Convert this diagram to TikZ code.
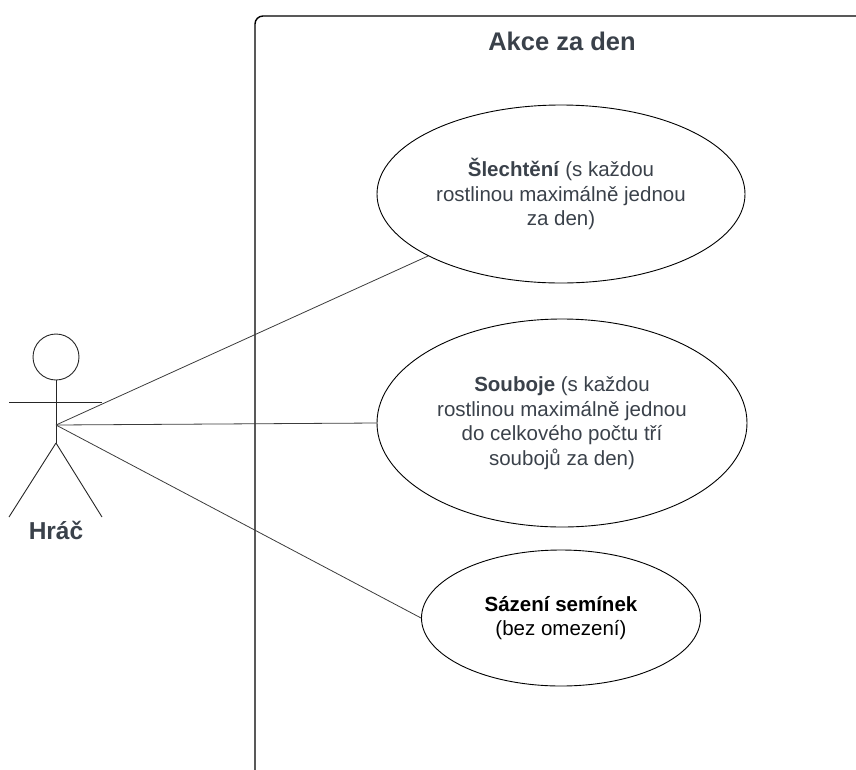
\documentclass[tikz,border=0pt]{standalone}
\usepackage{fontspec}
\setmainfont{Liberation Sans}
\usepackage{tikz}
\usetikzlibrary{positioning,shapes.geometric}
\definecolor{txtgray}{HTML}{3A414A}
\definecolor{linegray}{HTML}{3C3C3C}

\begin{document}
\begin{tikzpicture}[x=1pt, y=-1pt, auto,
    usecase/.style={ellipse, draw, line width=0.9pt, inner sep=0pt, align=center,
        text=txtgray, font=\fontsize{20.5}{24.5}\selectfont},
    stick/.style={line width=0.9pt, draw=black!85}]
    \useasboundingbox (0,0) rectangle (856,769);

    % system boundary
    \draw[line width=1.4pt, rounded corners=8pt] (862,16) -- (255,16) -- (255,775);
    \node[text=txtgray, font=\fontsize{25.5}{30}\selectfont\bfseries] (title) at (562,41) {Akce za den};

    % use cases
    \node[usecase, minimum width=368pt, minimum height=178pt] (breed) at (561,194)
        {\textbf{Šlechtění} (s každou\\rostlinou maximálně jednou\\za den)};
    \node[usecase, minimum width=370pt, minimum height=208pt] (fight) at (562,423)
        {\textbf{Souboje} (s každou\\rostlinou maximálně jednou\\do celkového počtu tří\\soubojů za den)};
    \node[usecase, minimum width=279pt, minimum height=136pt, text=black] (sow) at (561,618)
        {\textbf{Sázení semínek}\\(bez omezení)};

    % actor
    \node[circle, stick, minimum size=46pt, inner sep=0pt] (head) at (56,357) {};
    \coordinate (hand) at (56,425);
    \coordinate (hip) at (56,443);
    \draw[stick] (head.south) -- (hip);
    \draw[stick] (9,402) -- (102,402);
    \draw[stick] (hip) -- (9,517);
    \draw[stick] (hip) -- (102,517);
    \node[text=txtgray, font=\fontsize{24.5}{29}\selectfont\bfseries] (actor) at (56,530) {Hráč};

    \draw[linegray, line width=0.8pt] (hand) -- (breed.205);
    \draw[linegray, line width=0.8pt] (hand) -- (fight.west);
    \draw[linegray, line width=0.8pt] (hand) -- (sow.west);
\end{tikzpicture}
\end{document}
